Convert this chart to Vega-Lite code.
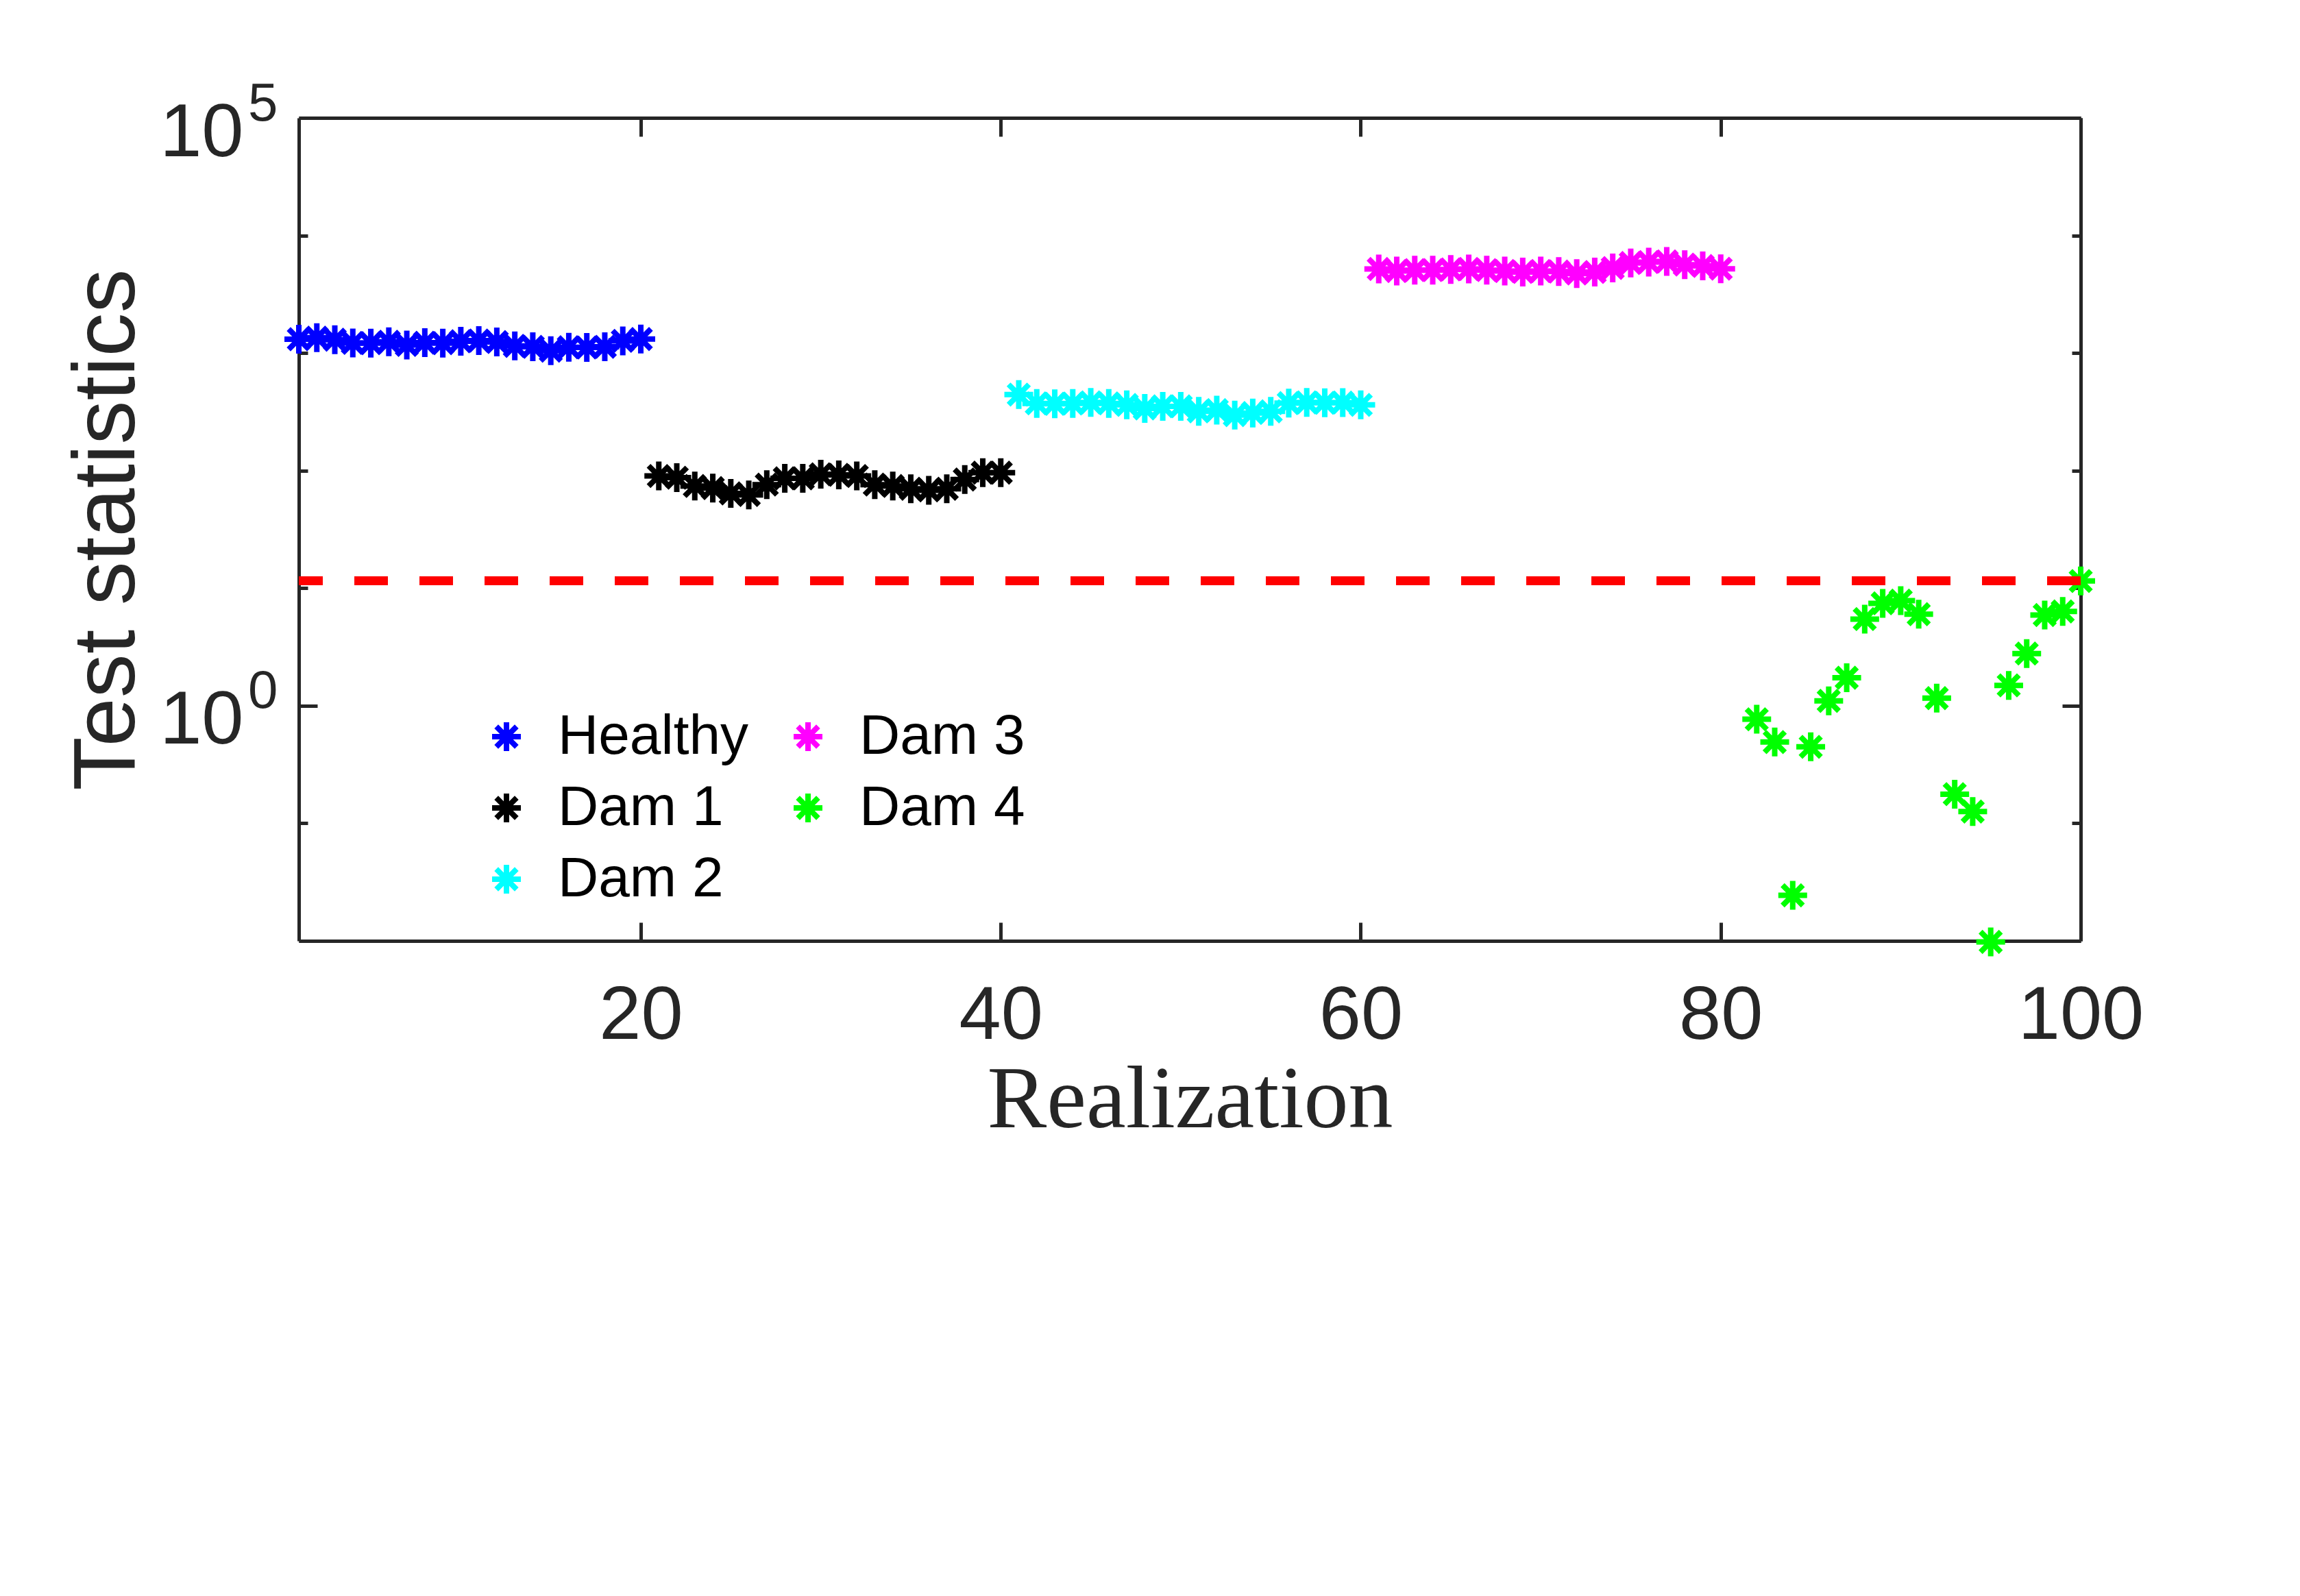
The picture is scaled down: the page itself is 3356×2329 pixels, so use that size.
{
  "$schema": "https://vega.github.io/schema/vega-lite/v6.json",
  "autosize": {"type": "none"},
  "padding": {"left": 436, "top": 172, "right": 320, "bottom": 956},
  "width": 2600,
  "height": 1201,
  "background": "white",
  "data": {
    "values": [
      {"x": 1, "y": 1310, "g": "Healthy"}, {"x": 2, "y": 1352, "g": "Healthy"},
      {"x": 3, "y": 1298, "g": "Healthy"}, {"x": 4, "y": 1219, "g": "Healthy"},
      {"x": 5, "y": 1213, "g": "Healthy"}, {"x": 6, "y": 1246, "g": "Healthy"},
      {"x": 7, "y": 1170, "g": "Healthy"}, {"x": 8, "y": 1224, "g": "Healthy"},
      {"x": 9, "y": 1213, "g": "Healthy"}, {"x": 10, "y": 1258, "g": "Healthy"},
      {"x": 11, "y": 1275, "g": "Healthy"}, {"x": 12, "y": 1241, "g": "Healthy"},
      {"x": 13, "y": 1150, "g": "Healthy"}, {"x": 14, "y": 1129, "g": "Healthy"},
      {"x": 15, "y": 1046, "g": "Healthy"}, {"x": 16, "y": 1119, "g": "Healthy"},
      {"x": 17, "y": 1114, "g": "Healthy"}, {"x": 18, "y": 1129, "g": "Healthy"},
      {"x": 19, "y": 1269, "g": "Healthy"}, {"x": 20, "y": 1315, "g": "Healthy"},
      {"x": 21, "y": 90, "g": "Dam 1"}, {"x": 22, "y": 87, "g": "Dam 1"},
      {"x": 23, "y": 74, "g": "Dam 1"}, {"x": 24, "y": 71, "g": "Dam 1"},
      {"x": 25, "y": 64, "g": "Dam 1"}, {"x": 26, "y": 62, "g": "Dam 1"},
      {"x": 27, "y": 76, "g": "Dam 1"}, {"x": 28, "y": 86, "g": "Dam 1"},
      {"x": 29, "y": 86, "g": "Dam 1"}, {"x": 30, "y": 93, "g": "Dam 1"},
      {"x": 31, "y": 92, "g": "Dam 1"}, {"x": 32, "y": 90, "g": "Dam 1"},
      {"x": 33, "y": 76, "g": "Dam 1"}, {"x": 34, "y": 74, "g": "Dam 1"},
      {"x": 35, "y": 70, "g": "Dam 1"}, {"x": 36, "y": 68, "g": "Dam 1"},
      {"x": 37, "y": 70, "g": "Dam 1"}, {"x": 38, "y": 84, "g": "Dam 1"},
      {"x": 39, "y": 96, "g": "Dam 1"}, {"x": 40, "y": 96, "g": "Dam 1"},
      {"x": 41, "y": 443, "g": "Dam 2"}, {"x": 42, "y": 373, "g": "Dam 2"},
      {"x": 43, "y": 370, "g": "Dam 2"}, {"x": 44, "y": 372, "g": "Dam 2"},
      {"x": 45, "y": 380, "g": "Dam 2"}, {"x": 46, "y": 373, "g": "Dam 2"},
      {"x": 47, "y": 362, "g": "Dam 2"}, {"x": 48, "y": 338, "g": "Dam 2"},
      {"x": 49, "y": 352, "g": "Dam 2"}, {"x": 50, "y": 352, "g": "Dam 2"},
      {"x": 51, "y": 319, "g": "Dam 2"}, {"x": 52, "y": 327, "g": "Dam 2"},
      {"x": 53, "y": 296, "g": "Dam 2"}, {"x": 54, "y": 309, "g": "Dam 2"},
      {"x": 55, "y": 319, "g": "Dam 2"}, {"x": 56, "y": 375, "g": "Dam 2"},
      {"x": 57, "y": 380, "g": "Dam 2"}, {"x": 58, "y": 377, "g": "Dam 2"},
      {"x": 59, "y": 379, "g": "Dam 2"}, {"x": 60, "y": 362, "g": "Dam 2"},
      {"x": 61, "y": 5186, "g": "Dam 3"}, {"x": 62, "y": 4979, "g": "Dam 3"},
      {"x": 63, "y": 5070, "g": "Dam 3"}, {"x": 64, "y": 5070, "g": "Dam 3"},
      {"x": 65, "y": 5140, "g": "Dam 3"}, {"x": 66, "y": 5186, "g": "Dam 3"},
      {"x": 67, "y": 5070, "g": "Dam 3"}, {"x": 68, "y": 4979, "g": "Dam 3"},
      {"x": 69, "y": 4886, "g": "Dam 3"}, {"x": 70, "y": 4979, "g": "Dam 3"},
      {"x": 71, "y": 4932, "g": "Dam 3"}, {"x": 72, "y": 4742, "g": "Dam 3"},
      {"x": 73, "y": 4886, "g": "Dam 3"}, {"x": 74, "y": 5285, "g": "Dam 3"},
      {"x": 75, "y": 5834, "g": "Dam 3"}, {"x": 76, "y": 5935, "g": "Dam 3"},
      {"x": 77, "y": 6015, "g": "Dam 3"}, {"x": 78, "y": 5648, "g": "Dam 3"},
      {"x": 79, "y": 5500, "g": "Dam 3"}, {"x": 80, "y": 5211, "g": "Dam 3"},
      {"x": 82, "y": 0.767, "g": "Dam 4"}, {"x": 83, "y": 0.491, "g": "Dam 4"},
      {"x": 84, "y": 0.0244, "g": "Dam 4"}, {"x": 85, "y": 0.447, "g": "Dam 4"},
      {"x": 86, "y": 1.10, "g": "Dam 4"}, {"x": 87, "y": 1.73, "g": "Dam 4"},
      {"x": 88, "y": 5.46, "g": "Dam 4"}, {"x": 89, "y": 7.43, "g": "Dam 4"},
      {"x": 90, "y": 7.83, "g": "Dam 4"}, {"x": 91, "y": 6.01, "g": "Dam 4"},
      {"x": 92, "y": 1.16, "g": "Dam 4"}, {"x": 93, "y": 0.177, "g": "Dam 4"},
      {"x": 94, "y": 0.126, "g": "Dam 4"}, {"x": 95, "y": 0.0098, "g": "Dam 4"},
      {"x": 96, "y": 1.49, "g": "Dam 4"}, {"x": 97, "y": 2.78, "g": "Dam 4"},
      {"x": 98, "y": 5.91, "g": "Dam 4"}, {"x": 99, "y": 6.34, "g": "Dam 4"},
      {"x": 100, "y": 11.5, "g": "Dam 4"}
    ]
  },
  "layer": [
    {
      "mark": {
        "type": "point",
        "shape": "M0,-1L0,1M-1,0L1,0M-0.7071,-0.7071L0.7071,0.7071M-0.7071,0.7071L0.7071,-0.7071",
        "filled": false,
        "size": 1764,
        "strokeWidth": 8,
        "opacity": 1
      },
      "encoding": {
        "x": {
          "field": "x", "type": "quantitative",
          "scale": {"domain": [1, 100], "nice": false, "zero": false},
          "axis": {
            "orient": "bottom", "values": [20, 40, 60, 80, 100],
            "tickSize": -27, "labelPadding": 82, "labelLimit": 1000,
            "labelFlush": false, "labelOverlap": false,
            "title": "Realization", "titleFont": "Liberation Serif",
            "titleFontSize": 130, "titleFontWeight": "normal", "titlePadding": 4
          }
        },
        "y": {
          "field": "y", "type": "quantitative",
          "scale": {"type": "log", "domain": [0.01, 100000], "nice": false},
          "axis": {
            "orient": "left",
            "values": [0.01, 0.1, 1, 10, 100, 1000, 10000, 100000],
            "labelExpr": "datum.value == 1 || datum.value == 100000 ? '10' : ''",
            "tickSize": {"condition": {"test": "datum.value == 1 || datum.value == 100000", "value": -27}, "value": -13},
            "labelPadding": 108, "labelOffset": 22, "labelLimit": 1000,
            "title": "Test statistics", "titleFontSize": 128, "titlePadding": 14
          }
        },
        "color": {
          "field": "g", "type": "nominal",
          "scale": {
            "domain": ["Healthy", "Dam 1", "Dam 2", "Dam 3", "Dam 4"],
            "range": ["#0000ff", "#000000", "#00ffff", "#ff00ff", "#00ff00"]
          },
          "legend": {
            "title": null, "orient": "none", "legendX": 262, "legendY": 862,
            "columns": 2, "columnPadding": 45, "rowPadding": 22, "padding": 0,
            "symbolType": "M0,-1L0,1M-1,0L1,0M-0.7071,-0.7071L0.7071,0.7071M-0.7071,0.7071L0.7071,-0.7071",
            "symbolSize": 1764, "symbolStrokeWidth": 8,
            "labelFont": "Liberation Sans", "labelFontSize": 82, "labelColor": "#000000",
            "labelOffset": 34, "labelLimit": 1000
          }
        }
      }
    },
    {
      "mark": {"type": "point", "opacity": 0},
      "encoding": {
        "x": {
          "field": "x", "type": "quantitative",
          "axis": {"orient": "top", "values": [20, 40, 60, 80, 100], "tickSize": -27, "labels": false, "title": null}
        },
        "y": {
          "field": "y", "type": "quantitative",
          "axis": {
            "orient": "right",
            "values": [0.01, 0.1, 1, 10, 100, 1000, 10000, 100000],
            "tickSize": {"condition": {"test": "datum.value == 1 || datum.value == 100000", "value": -27}, "value": -13},
            "labels": false, "title": null
          }
        }
      }
    },
    {
      "mark": {"type": "point", "opacity": 0},
      "encoding": {
        "x": {"field": "x", "type": "quantitative", "axis": null},
        "y": {
          "field": "y", "type": "quantitative",
          "axis": {
            "orient": "left", "values": [1, 100000],
            "labelExpr": "datum.value == 1 ? '0' : '5'",
            "domain": false, "ticks": false, "labelPadding": 31,
            "labelFontSize": 78, "labelOffset": -20, "title": null
          }
        }
      }
    },
    {
      "mark": {"type": "rule", "color": "#ff0000", "strokeWidth": 12.5, "strokeDash": [49, 46]},
      "encoding": {
        "y": {"datum": 11.5, "type": "quantitative", "axis": null}
      }
    }
  ],
  "resolve": {"axis": {"x": "independent", "y": "independent"}},
  "config": {
    "view": {"stroke": null},
    "font": "Liberation Sans",
    "axis": {
      "grid": false,
      "domainColor": "#262626", "domainWidth": 5,
      "tickColor": "#262626", "tickWidth": 5,
      "labelFont": "Liberation Sans", "labelFontSize": 110, "labelColor": "#262626",
      "titleFont": "Liberation Sans", "titleFontWeight": "normal", "titleColor": "#262626"
    }
  }
}
